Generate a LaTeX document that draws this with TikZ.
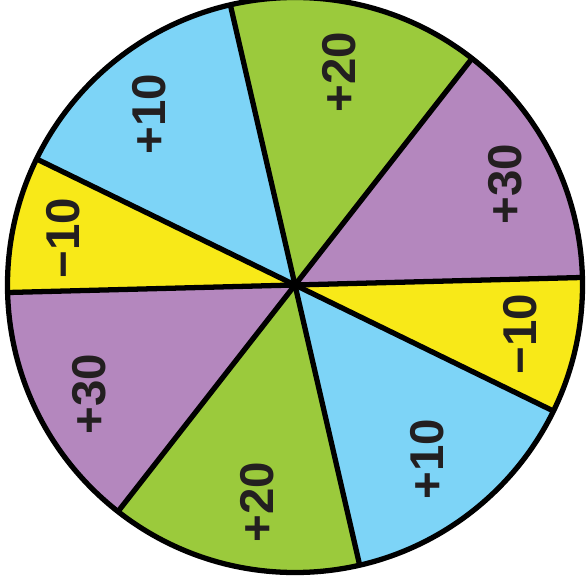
\documentclass[tikz,border=0pt]{standalone}
\usepackage{fontspec}
\setmainfont{Liberation Sans}
\definecolor{verde}{HTML}{9BCA3C}
\definecolor{lila}{HTML}{B487BE}
\definecolor{amarillo}{HTML}{F8E918}
\definecolor{celeste}{HTML}{7DD4F7}
\definecolor{tinta}{HTML}{231F20}
\tikzset{
  puntos/.style={font=\fontsize{27}{30}\selectfont\bfseries, text=tinta, rotate=90, inner sep=0pt},
  borde/.style={draw=black, line width=3pt}
}
\begin{document}
\begin{tikzpicture}[scale=1]
        \useasboundingbox (-5.9,-6.06) rectangle (5.8,5.70);
        \def\R{5.75}

        % Sectores de la ruleta
        \foreach \ini/\fin/\col in {52/103/verde, 1.5/52/lila, -26/1.5/amarillo, -77/-26/celeste,
                                    232/283/verde, 181.5/232/lila, 154/181.5/amarillo, 103/154/celeste}
            \fill[\col] (0,0) -- (\ini:\R) arc[start angle=\ini, end angle=\fin, radius=\R] -- cycle;

        % Radios
        \foreach \ang in {103, 52, 1.5, -26}
            \draw[borde] (\ang:\R) -- (\ang+180:\R);

        % Borde exterior
        \draw[borde] (0,0) circle (\R);

        % Puntuaciones
        \node[puntos] (sup20) at (0.88,4.26) {+20};
        \node[puntos] (der30) at (4.20,2.02) {+30};
        \node[puntos] (der10) at (4.50,-0.98) {−10};
        \node[puntos] (inf10) at (2.64,-3.48) {+10};
        \node[puntos] (inf20) at (-0.76,-4.34) {+20};
        \node[puntos] (izq30) at (-4.12,-2.18) {+30};
        \node[puntos] (izq10) at (-4.64,0.94) {−10};
        \node[puntos] (sup10) at (-2.92,3.42) {+10};

    \end{tikzpicture}
\end{document}
